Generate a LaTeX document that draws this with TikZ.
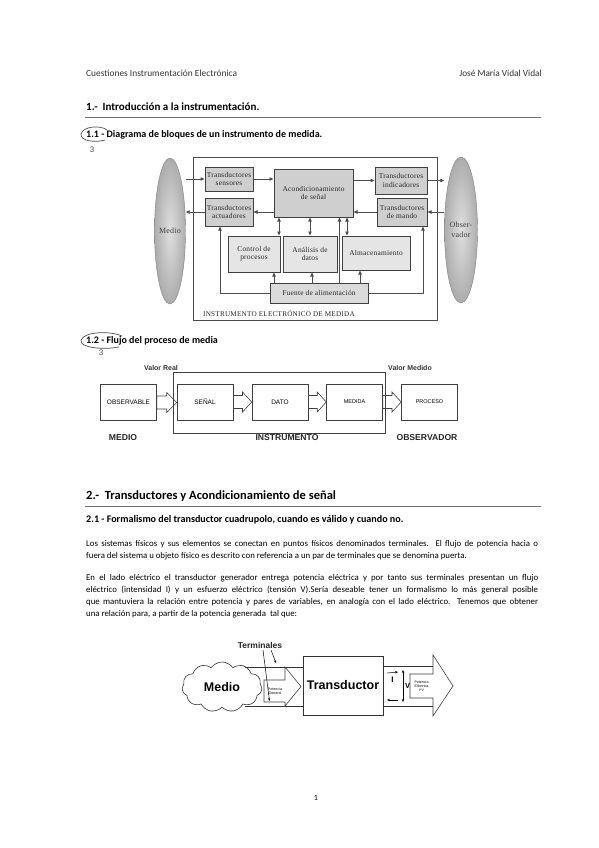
\documentclass[tikz,border=0pt]{standalone}
\usepackage{fontspec}
\usepackage{graphicx}
\setmainfont{Carlito}
\newfontfamily\serifd[LetterSpace=3]{Liberation Serif}
\newfontfamily\sansd{Liberation Sans}
\usetikzlibrary{arrows.meta,calc,shapes.geometric,shapes.symbols}
\newcommand\fatarr[2]{\draw[fat] let \p1=(#1.east), \p2=(#2.west), \n1={\x1+0.5*(\x2-\x1)} in
  (\x1,\y1-6.5pt) -- (\n1,\y1-6.5pt) -- (\n1,\y1-10pt) -- (\x2,\y1) -- (\n1,\y1+10pt) -- (\n1,\y1+6.5pt) -- (\x1,\y1+6.5pt) -- cycle;}
\begin{document}
\begin{tikzpicture}[x=1pt,y=-1pt,
  txt/.style={inner sep=0pt, anchor=west},
  tbox/.style={draw=black!75, line width=1pt, fill=gray!38, font=\serifd\fontsize{7.4}{8.4}\selectfont, text=black!85, align=center, inner sep=0.5pt},
  lbox/.style={tbox, fill=gray!20},
  sarr/.style={-{Triangle[length=4pt,width=3.4pt]}, line width=0.8pt, draw=black!70},
  darr/.style={{Triangle[length=4pt,width=3.4pt]}-{Triangle[length=4pt,width=3.4pt]}, line width=0.8pt, draw=black!70},
  fbox/.style={draw=black!75, line width=0.6pt, minimum width=56pt, minimum height=36pt, inner sep=0pt, font=\sansd\fontsize{6.5}{7}\selectfont},
  fat/.style={draw=black!75, line width=0.6pt},
  wire/.style={draw=black!80, line width=0.6pt},
  hand/.style={draw=black!70, line width=0.7pt},
  rulel/.style={draw=black!55, line width=0.9pt},
  body/.style={inner sep=0pt, anchor=west, font=\fontsize{8.8}{10}\selectfont},
  smarr/.style={-{Stealth[length=3pt,width=2.5pt]}, line width=0.5pt},
  biglab/.style={font=\sansd\bfseries\fontsize{8.6}{10}\selectfont, text=black!85},
]
\fill[white] (0,0) rectangle (599,848);
\useasboundingbox (0,0) rectangle (599,848);

% ---------- header ----------
\node[txt, font=\fontsize{9.4}{10}\selectfont, text=black!80] (hl) at (86,73) {Cuestiones Instrumentación Electrónica};
\node[inner sep=0pt, anchor=east, font=\fontsize{9.3}{10}\selectfont, text=black!80] (hr) at (542,73) {José María Vidal Vidal};

\node[txt, font=\bfseries\fontsize{11}{13}\selectfont] (h1) at (86,107) {1.-\ \ Introducción a la instrumentación.};
\coordinate (r1a) at (85,117); \coordinate (r1b) at (541,117);
\draw[rulel] (r1a) -- (r1b);

\node[txt, font=\bfseries\fontsize{10}{12}\selectfont] (h11) at (86,135) {1.1 - Diagrama de bloques de un instrumento de medida.};
\draw[hand] (107,130) .. controls (101,125) and (83,126) .. (81,134) .. controls (80,141) and (95,143) .. (105,140);
\node[font=\sansd\fontsize{8}{8}\selectfont, text=black!70] (n3a) at (92,150) {3};

% ---------- diagram 1 ----------
\node[draw=black!70, line width=0.8pt, minimum width=244pt, minimum height=163pt, inner sep=0] (inst1) at (315,238.5) {};
\node[ellipse, draw=black!50, inner color=gray!25, outer color=gray!65, minimum width=31pt, minimum height=146pt, inner sep=0] (medio) at (170,231) {};
\node[ellipse, draw=black!50, inner color=gray!25, outer color=gray!65, minimum width=33pt, minimum height=146pt, inner sep=0] (obs) at (461,230) {};
\node[font=\serifd\fontsize{8}{9}\selectfont, text=black!75] (mediot) at (medio.center) {Medio};
\node[font=\serifd\fontsize{8}{9.5}\selectfont, text=black!75, align=center] (obst) at (obs.center) {Obser-\\vador};

\node[tbox, minimum width=48pt, minimum height=24pt] (ts) at (229,179) {Transductores\\sensores};
\node[tbox, minimum width=48pt, minimum height=28pt] (ta) at (229,212) {Transductores\\actuadores};
\node[tbox, minimum width=79pt, minimum height=48pt] (ac) at (313.5,193) {Acondicionamiento\\de señal};
\node[tbox, minimum width=52pt, minimum height=27pt] (ti) at (401,180.5) {Transductores\\indicadores};
\node[tbox, minimum width=50pt, minimum height=28pt] (tm) at (402,212) {Transductores\\de mando};
\node[lbox, minimum width=52pt, minimum height=36pt] (cp) at (254,254) {Control de\\procesos};
\node[lbox, minimum width=54pt, minimum height=36pt] (ad) at (310,254) {Análisis de\\datos};
\node[lbox, minimum width=68pt, minimum height=34pt] (al) at (376,253) {Almacenamiento};
\node[tbox, fill=gray!28, minimum width=98pt, minimum height=20pt] (fa) at (319,293) {Fuente de alimentación};
\node[txt, font=\serifd\fontsize{7.2}{8}\selectfont, text=black!85] (instlab) at (203,313) {INSTRUMENTO ELECTRÓNICO DE MEDIDA};

\coordinate (x1) at (279,0); \coordinate (x2) at (310,0); \coordinate (x3) at (347,0);
\coordinate (x4) at (339.5,0); \coordinate (x5) at (274,0); \coordinate (x6) at (312,0);
\coordinate (x7) at (360,0); \coordinate (xl) at (220,0); \coordinate (xr) at (423,0);

\draw[sarr] (medio.east |- ts.west) -- (ts.west);
\draw[sarr] (ts.east) -- (ts.east -| ac.west);
\draw[sarr] (ac.east |- ti.west) -- (ti.west);
\draw[sarr] (ti.east) -- (ti.east -| obs.west);
\draw[sarr] (obs.west |- tm.east) -- (tm.east);
\draw[sarr] (tm.west) -- (tm.west -| ac.east);
\draw[sarr] (ac.west |- ta.east) -- (ta.east);
\draw[sarr] (ta.west) -- (ta.west -| medio.east);
\draw[darr] (x1 |- ac.south) -- (x1 |- cp.north);
\draw[darr] (x2 |- ac.south) -- (x2 |- ad.north);
\draw[darr] (x3 |- ac.south) -- (x3 |- al.north);
\draw[sarr] (x4 |- fa.north) -- (x4 |- ac.south);
\draw[sarr] (x5 |- fa.north) -- (x5 |- cp.south);
\draw[sarr] (x6 |- fa.north) -- (x6 |- ad.south);
\draw[sarr] (x7 |- fa.north) -- (x7 |- al.south);
\draw[sarr] (fa.west) -| (xl |- ta.south);
\draw[sarr] (fa.east) -| (xr |- tm.south);

% ---------- section 1.2 ----------
\node[txt, font=\bfseries\fontsize{10}{12}\selectfont] (h12) at (86,341) {1.2 - Flujo del proceso de media};
\draw[hand] (122,336) .. controls (111,331) and (85,331) .. (81,340) .. controls (79,348) and (104,350) .. (119,347);
\node[font=\sansd\fontsize{8}{8}\selectfont, text=black!70] (n3b) at (101,353) {3};

\node[draw=black!75, line width=0.6pt, minimum width=212pt, minimum height=61pt, inner sep=0] (instr) at (279,402.5) {};
\node[fbox] (ob) at (128.5,402.5) {OBSERVABLE};
\node[fbox] (se) at (205,402) {SEÑAL};
\node[fbox] (da) at (280,402) {DATO};
\node[fbox, font=\sansd\fontsize{5.5}{6}\selectfont] (me) at (354.5,402) {MEDIDA};
\node[fbox, font=\sansd\fontsize{5.5}{6}\selectfont] (pr) at (429.5,402) {PROCESO};
\fatarr{ob}{se}
\fatarr{se}{da}
\fatarr{da}{me}
\fatarr{me}{pr}
\node[font=\sansd\bfseries\fontsize{7}{8}\selectfont, text=black!80] (vr) at (161,368) {Valor Real};
\node[font=\sansd\bfseries\fontsize{7}{8}\selectfont, text=black!80] (vm) at (410,368) {Valor Medido};
\node[biglab] (lme) at (123,438) {MEDIO};
\node[biglab] (lin) at (287,438) {INSTRUMENTO};
\node[biglab] (lob) at (427,438) {OBSERVADOR};

% ---------- section 2 ----------
\node[txt, font=\bfseries\fontsize{12.5}{14}\selectfont] (h2) at (86,496) {2.-\ \ Transductores y Acondicionamiento de señal};
\coordinate (r2a) at (85,506); \coordinate (r2b) at (541,506);
\draw[rulel] (r2a) -- (r2b);
\node[txt, font=\bfseries\fontsize{10.1}{12}\selectfont] (h21) at (86,520) {2.1 - Formalismo del transductor cuadrupolo, cuando es válido y cuando no.};

\node[body] (p1a) at (86,544) {\makebox[452pt][s]{Los sistemas físicos y sus elementos se conectan en puntos físicos denominados terminales. El flujo de potencia hacia o}};
\node[body] (p1b) at (86,556) {fuera del sistema u objeto físico es descrito con referencia a un par de terminales que se denomina puerta.};
\node[body] (p2a) at (86,578) {\makebox[452pt][s]{En el lado eléctrico el transductor generador entrega potencia eléctrica y por tanto sus terminales presentan un flujo}};
\node[body] (p2b) at (86,590) {\makebox[452pt][s]{eléctrico (intensidad I) y un esfuerzo eléctrico (tensión V).Sería deseable tener un formalismo lo más general posible}};
\node[body] (p2c) at (86,602) {\makebox[452pt][s]{que mantuviera la relación entre potencia y pares de variables, en analogía con el lado eléctrico. Tenemos que obtener}};
\node[body] (p2d) at (86,614) {una relación para, a partir de la potencia generada\ \ tal que:};

% ---------- diagram 3 ----------
\node[cloud, cloud puffs=11, cloud puff arc=110, aspect=1.6, draw=black!80, line width=0.6pt, minimum width=80pt, minimum height=50pt, inner sep=0, font=\sansd\bfseries\fontsize{12.5}{14}\selectfont] (cl) at (222,687) {Medio};
\node[draw=black!80, line width=0.6pt, minimum width=80pt, minimum height=59pt, inner sep=0, font=\sansd\bfseries\fontsize{12.5}{14}\selectfont] (tr) at (343,685.5) {Transductor};
\coordinate (wt) at (245,667); \coordinate (wb) at (245,706);
\coordinate (et) at (433,666); \coordinate (eb) at (433,706);
\draw[wire] (wt) -- (wt -| tr.west);
\draw[wire] (wb) -- (wb -| tr.west);
\draw[wire] (tr.east |- et) -- (et);
\draw[wire] (tr.east |- eb) -- (eb);
\draw[fat, fill=white] (264,680) -- (285,680) -- (285,667) -- (301,686.5) -- (285,706) -- (285,702) -- (264,702) -- cycle;
\draw[fat, fill=white] (410,674) -- (433,674) -- (433,655) -- (453,686) -- (433,716) -- (433,698) -- (410,698) -- cycle;
\node[font=\sansd\fontsize{3.6}{4.2}\selectfont, align=center] (pg) at (275,691) {Potencia\\General};
\node[font=\sansd\fontsize{3.6}{4.2}\selectfont, align=center] (pe) at (421.5,686) {Potencia\\Eléctrica\\I*V};
\node[font=\sansd\bfseries\fontsize{8}{9}\selectfont] (iI) at (392.5,680) {I};
\coordinate (ia1) at (387,673); \coordinate (ia2) at (398,672);
\draw[smarr] (ia1) -- (ia2);
\coordinate (ib1) at (398,700); \coordinate (ib2) at (387,700);
\draw[smarr] (ib1) -- (ib2);
\coordinate (v1) at (403,670); \coordinate (v2) at (403,702);
\draw[{Stealth[length=3pt,width=2.5pt]}-{Stealth[length=3pt,width=2.5pt]}, line width=0.6pt] (v1) -- (v2);
\node[font=\sansd\bfseries\fontsize{7.5}{9}\selectfont] (vV) at (407.5,686) {V};
\node[font=\sansd\bfseries\fontsize{8.5}{9}\selectfont, text=black!85] (term) at (260,645) {Terminales};
\coordinate (t1) at (263,650); \coordinate (t1e) at (269.5,701);
\coordinate (t2) at (271,650); \coordinate (t2e) at (276,663);
\draw[smarr] (t1) -- (t1e);
\draw[smarr] (t2) -- (t2e);

\node[font=\fontsize{8}{9}\selectfont] (pn) at (316,798) {1};
\end{tikzpicture}
\end{document}
